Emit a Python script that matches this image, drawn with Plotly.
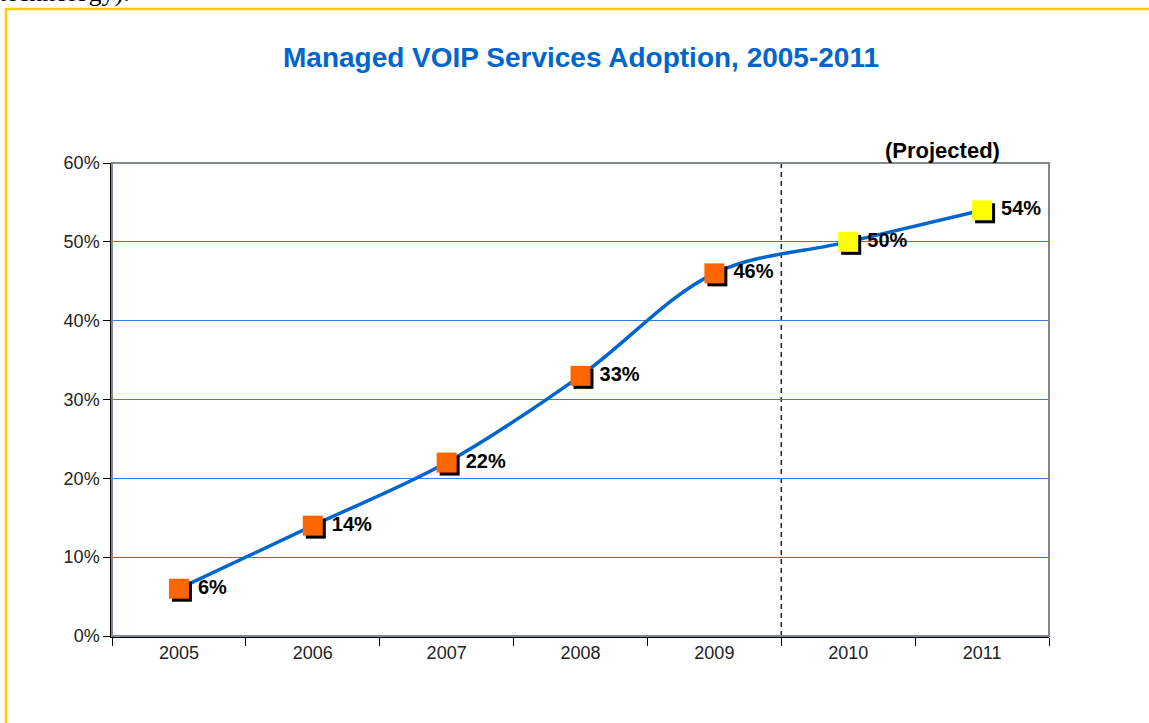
import plotly.graph_objects as go

years = ["2005", "2006", "2007", "2008", "2009", "2010", "2011"]
adoption = [6, 14, 22, 33, 46, 50, 54]
projected = [False, False, False, False, False, True, True]
y_ticks = [0, 10, 20, 30, 40, 50, 60]
y_tick_labels = [f"{v}%" for v in y_ticks]

W, H = 1149, 723
ML, MR, MT, MB = 112, 100, 163, 87
pw, ph = W - ML - MR, H - MT - MB


def px_x(px):  # page pixel -> paper x
    return (px - ML) / pw


def px_y(py):  # page pixel -> paper y
    return (H - MB - py) / ph


xpos = list(range(len(years)))
ymax = 60
dx = 3 / (pw / len(years))
dy = 3 / (ph / ymax)

colors = ["#FFFF00" if p else "#FF6600" for p in projected]
FONT = "Arial, Liberation Sans, sans-serif"

fig = go.Figure()
fig.add_trace(go.Scatter(
    x=xpos, y=adoption, mode="lines",
    line=dict(color="#0066CC", width=3.5, shape="spline", smoothing=1.0),
    hoverinfo="skip"))
fig.add_trace(go.Scatter(
    x=[v + dx for v in xpos], y=[v - dy for v in adoption], mode="markers",
    marker=dict(symbol="square", size=20, color="#000000", line=dict(width=0)),
    hoverinfo="skip"))
fig.add_trace(go.Scatter(
    x=xpos, y=adoption, mode="markers+text",
    marker=dict(symbol="square", size=20, color=colors, line=dict(width=0)),
    text=[f" {v}%" for v in adoption], textposition="middle right",
    textfont=dict(family=FONT, size=20, color="#000000", weight="bold")))

split = sum(1 for p in projected if not p) - 0.5
fig.add_shape(type="line", xref="x", yref="y", x0=split, x1=split, y0=0, y1=ymax,
              line=dict(color="#222222", width=1.5, dash="5px,4px"), layer="below")

fig.add_shape(type="rect", xref="paper", yref="paper", x0=0, x1=1, y0=0, y1=1,
              line=dict(color="#808890", width=2), layer="above")
fig.add_shape(type="rect", xref="paper", yref="paper",
              x0=px_x(6), x1=px_x(1200), y0=px_y(800), y1=px_y(9),
              line=dict(color="#FFCC00", width=2.5), layer="below")

fig.add_annotation(text="(Projected)", xref="paper", yref="paper",
                   x=px_x(942), y=px_y(151), showarrow=False,
                   xanchor="center", yanchor="middle",
                   font=dict(family=FONT, size=22, color="#000000", weight="bold"))
fig.add_annotation(text="technology).", xref="paper", yref="paper",
                   x=px_x(-3), y=px_y(9), showarrow=False,
                   xanchor="left", yanchor="bottom",
                   font=dict(family="Liberation Serif, Times New Roman, serif", size=26, color="#000000"))

fig.update_layout(
    width=W, height=H,
    margin=dict(l=ML, r=MR, t=MT, b=MB),
    paper_bgcolor="white", plot_bgcolor="white",
    showlegend=False,
    font=dict(family=FONT, color="#222222"),
    title=dict(text="Managed VOIP Services Adoption, 2005-2011",
               x=581 / W, xanchor="center", y=1 - 57 / H, yanchor="middle",
               font=dict(family=FONT, size=28, color="#0066CC", weight="bold")),
    xaxis=dict(range=[-0.5, len(years) - 0.5], tickvals=xpos, ticktext=years,
               ticks="", showgrid=False, zeroline=False,
               showline=True, linecolor="#000000", linewidth=1.5,
               tickfont=dict(size=18, color="#222222"),
               minor=dict(tick0=-0.5, dtick=1, ticks="outside", ticklen=8,
                          tickcolor="#000000", tickwidth=1, showgrid=False)),
    yaxis=dict(range=[0, ymax], tickvals=y_ticks, ticktext=y_tick_labels,
               ticks="outside", ticklen=7, tickcolor="#000000",
               showgrid=True, gridcolor="#3A7BD5", gridwidth=1, zeroline=False,
               showline=True, linecolor="#000000", linewidth=1.5,
               tickfont=dict(size=18, color="#222222")),
)

fig.write_html("out.html", config={"displayModeBar": False},
               post_script="document.body.style.margin='0px';document.body.style.overflow='hidden';")
